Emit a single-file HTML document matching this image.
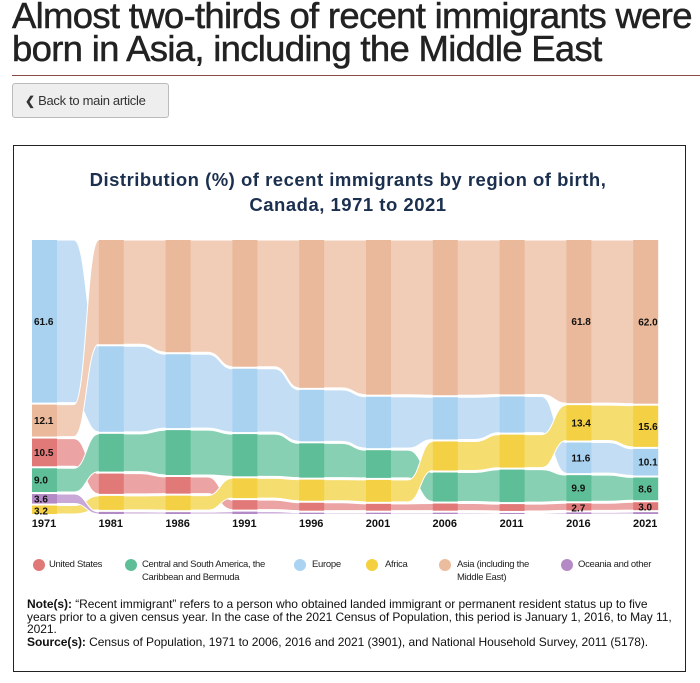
<!DOCTYPE html>
<html><head><meta charset="utf-8"><style>
body{margin:0;width:700px;height:683px;background:#fff;font-family:"Liberation Sans",sans-serif;position:relative;overflow:hidden}
h1{position:absolute;left:12px;top:-1px;margin:0;font-size:36.5px;line-height:33px;font-weight:normal;color:#222;letter-spacing:-0.7px;white-space:nowrap;-webkit-text-stroke:0.5px #222}
.rule{position:absolute;left:12px;top:75px;width:688px;height:1px;background:#8a4a4a}
.btn{position:absolute;left:12px;top:83px;width:157px;height:35px;border:1px solid #bbb;border-radius:3px;background:#eee;font-size:13px;color:#333;line-height:34px;box-sizing:border-box;padding-left:12px;letter-spacing:-0.3px}
.box{position:absolute;left:13px;top:145px;width:673px;height:527px;border:1.5px solid #222;box-sizing:border-box}
.ct{position:absolute;left:0;width:696px;text-align:center;font-weight:bold;color:#1b2f4e;font-size:18.5px;letter-spacing:0.5px}
.leg{position:absolute;top:558px;font-size:9.5px;color:#222;line-height:13px;letter-spacing:-0.3px}
.dot{position:absolute;top:559px;width:12px;height:12px;border-radius:50%}
.note{position:absolute;left:27px;top:598px;width:645px;font-size:12px;line-height:12.5px;color:#111;letter-spacing:-0.05px}
</style></head><body>
<h1>Almost two-thirds of recent immigrants were<br>born in Asia, including the Middle East</h1>
<div class="rule"></div>
<div class="btn"><b style="font-size:12px">❮</b> Back to main article</div>
<div class="box"></div>
<div class="ct" style="top:169px">Distribution (%) of recent immigrants by region of birth,</div>
<div class="ct" style="top:194px">Canada, 1971 to 2021</div>
<svg id="chart" width="700" height="683" style="position:absolute;left:0;top:0"></svg>

<div class="dot" style="left:33px;background:#e07878"></div>
<div class="leg" style="left:49px">United States</div>
<div class="dot" style="left:125px;background:#5dbe98"></div>
<div class="leg" style="left:142px">Central and South America, the<br>Caribbean and Bermuda</div>
<div class="dot" style="left:294px;background:#aad3f2"></div>
<div class="leg" style="left:312px">Europe</div>
<div class="dot" style="left:366px;background:#f4d03f"></div>
<div class="leg" style="left:385px">Africa</div>
<div class="dot" style="left:439px;background:#ebbc9e"></div>
<div class="leg" style="left:457px">Asia (including the<br>Middle East)</div>
<div class="dot" style="left:561px;background:#b48ac6"></div>
<div class="leg" style="left:578px">Oceania and other</div>

<div class="note"><b>Note(s):</b> “Recent immigrant” refers to a person who obtained landed immigrant or permanent resident status up to five years prior to a given census year. In the case of the 2021 Census of Population, this period is January 1, 2016, to May 11, 2021.<br><b>Source(s):</b> Census of Population, 1971 to 2006, 2016 and 2021 (3901), and National Household Survey, 2011 (5178).</div>

<script>
const years=["1971","1981","1986","1991","1996","2001","2006","2011","2016","2021"];
const us=[10.5,7.7,6.3,3.6,3.0,2.6,2.7,2.6,2.7,3.0];
const central=[9.0,14.3,17.0,16.0,13.0,10.5,11.0,12.3,9.9,8.6];
const europe=[61.6,32.4,28.0,24.0,19.5,19.5,16.0,13.7,11.6,10.1];
const africa=[3.2,5.3,5.5,7.5,8.0,8.3,11.0,12.5,13.4,15.6];
const asia=[12.1,39.5,42.5,48.0,56.0,58.6,58.8,58.5,61.8,62.0];
const oceania=[3.6,0.8,0.7,0.9,0.5,0.5,0.5,0.4,0.6,0.7];
const labelYears=[0,8,9];

const svg=document.getElementById('chart');
const NS='http://www.w3.org/2000/svg';
const series=[
 {name:'us',vals:us,light:'#eca3a3',dark:'#e27979'},
 {name:'central',vals:central,light:'#87d0b3',dark:'#5dbe98'},
 {name:'europe',vals:europe,light:'#c3def4',dark:'#a9d2f1'},
 {name:'africa',vals:africa,light:'#f5dd6f',dark:'#f3d044'},
 {name:'asia',vals:asia,light:'#f1cdb7',dark:'#eab99b'},
 {name:'oceania',vals:oceania,light:'#c9a8d7',dark:'#b48ac6'}];
const x0=44,dx=66.8,yBot=514,plotH=274,gap=2;
function xc(i){return x0+i*dx;}
const n=years.length;
const pos=series.map(()=>[]);
for(let i=0;i<n;i++){
  const tot=series.reduce((a,s)=>a+s.vals[i],0);
  const k=(plotH-gap*(series.length-1))/tot;
  const order=series.map((s,j)=>j).sort((a,b)=>series[a].vals[i]-series[b].vals[i]);
  let cur=yBot;
  order.forEach(j=>{const h=series[j].vals[i]*k;pos[j][i]={b:cur,t:cur-h};cur=cur-h-gap;});
}
function edge(j,key){
  let d='';
  for(let i=0;i<n;i++){
    const y=pos[j][i][key];const l=xc(i)-12,r=i<n-1?xc(i)+30:xc(i)+13;
    if(i===0)d+='M'+l+','+y;else{const pl=xc(i-1)+30,py=pos[j][i-1][key];const m=(pl+l)/2;d+=' C'+m+','+py+' '+m+','+y+' '+l+','+y;}
    d+=' L'+r+','+y;
  }
  return d;
}
function edgeRev(j,key){
  let d='';
  for(let i=n-1;i>=0;i--){
    const y=pos[j][i][key];const l=xc(i)-12,r=i<n-1?xc(i)+30:xc(i)+13;
    if(i===n-1)d+=' L'+r+','+y;else{const nl=xc(i+1)-12,ny=pos[j][i+1][key];const m=(r+nl)/2;d+=' C'+m+','+ny+' '+m+','+y+' '+r+','+y;}
    d+=' L'+l+','+y;
  }
  return d;
}
series.forEach((s,j)=>{
  const p=document.createElementNS(NS,'path');
  p.setAttribute('d',edge(j,'t')+edgeRev(j,'b')+'Z');
  p.setAttribute('fill',s.light);p.setAttribute('stroke','#fff');p.setAttribute('stroke-width','1');
  
  
  svg.appendChild(p);
});
series.forEach((s,j)=>{
  for(let i=0;i<n;i++){
    const r=document.createElementNS(NS,'rect');
    r.setAttribute('x',xc(i)-12);r.setAttribute('width',25);
    r.setAttribute('y',pos[j][i].t);r.setAttribute('height',Math.max(0.5,pos[j][i].b-pos[j][i].t));
    r.setAttribute('fill',s.dark);
    
    
    svg.appendChild(r);
  }
});
labelYears.forEach(i=>{
  series.forEach((s,j)=>{
    if(s.name==='oceania'&&i!==0)return;
    const t=document.createElementNS(NS,'text');
    const h=pos[j][i].b-pos[j][i].t;
    t.setAttribute('x',xc(i)-10+(i===0?0:3));t.setAttribute('y',(pos[j][i].t+pos[j][i].b)/2+3.5+(h<9?1:0));
    t.setAttribute('font-size','10');t.setAttribute('font-weight','bold');t.setAttribute('fill','#111');
    t.setAttribute('font-family','Liberation Sans, sans-serif');
    t.textContent=s.vals[i].toFixed(1);
    
    
    svg.appendChild(t);
  });
});
years.forEach((y,i)=>{
  const t=document.createElementNS(NS,'text');
  t.setAttribute('x',xc(i));t.setAttribute('y',527);t.setAttribute('text-anchor','middle');
  t.setAttribute('font-size','11');t.setAttribute('font-weight','bold');t.setAttribute('fill','#111');
  t.setAttribute('font-family','Liberation Sans, sans-serif');
  t.textContent=y;
  
  
  svg.appendChild(t);
});
</script>
</body></html>
